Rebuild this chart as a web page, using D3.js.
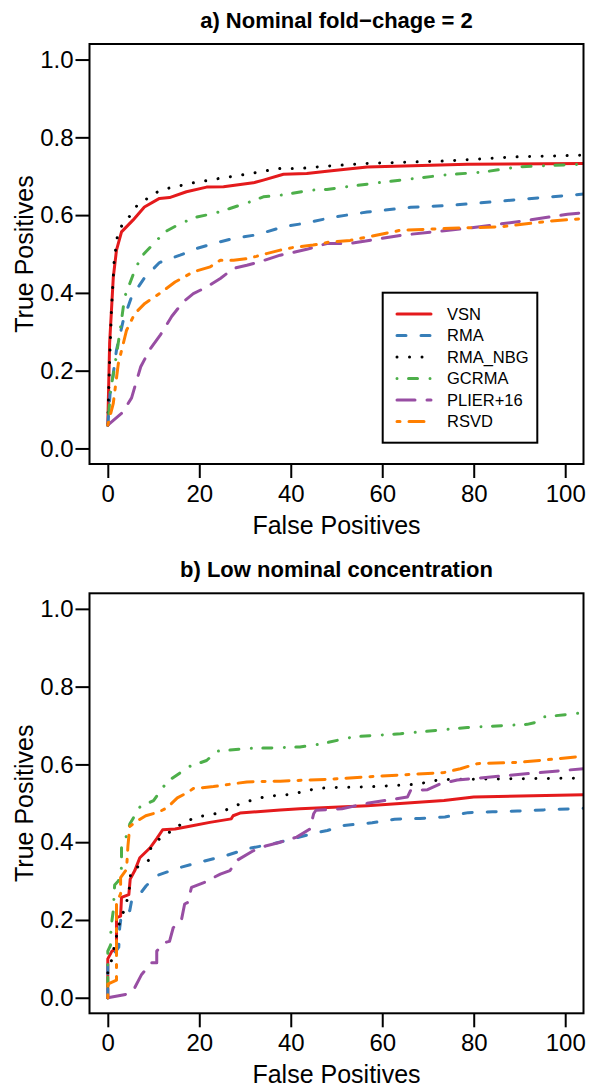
<!DOCTYPE html>
<html>
<head>
<meta charset="utf-8">
<script src="https://cdn.jsdelivr.net/npm/d3@7/dist/d3.min.js"></script>
<style>
  body { margin: 0; background: #fff; }
  text { font-family: "Liberation Sans", Arial, Helvetica, sans-serif; fill: #000; }
</style>
</head>
<body>
<svg id="chart"></svg>
<script>
// tick values
const fpTicks = [0, 20, 40, 60, 80, 100];
const tpTicks = [0, 0.2, 0.4, 0.6, 0.8, 1.0];

// methods (legend order) and their styles
const methods = ["VSN", "RMA", "RMA_NBG", "GCRMA", "PLIER+16", "RSVD"];
const colors = ["#E41A1C", "#377EB8", "#000000", "#4DAF4A", "#984EA3", "#FF7F00"];
const dashes = [null, "9,15", "0.01,12.5", "0.01,11.5,9,12.5", "18,12", "3,9,15,9"];

// panel titles
const titles = ["a) Nominal fold\u2212chage = 2", "b) Low nominal concentration"];

// panel a: [false positives, true positives]
const vsnA = [[0,0.06],[0.4,0.27],[1.2,0.44],[1.9,0.51],[3.0,0.557],[5.5,0.587],[8.0,0.621],[11.3,0.643],[13.5,0.645],[17.2,0.66],[21.6,0.672],[25.3,0.673],[31.8,0.683],[34,0.69],[38.4,0.705],[43.5,0.707],[47.9,0.713],[51.5,0.717],[56.7,0.724],[78.6,0.731],[104,0.733]];
const rmaA = [[0,0.06],[0.5,0.141],[0.8,0.158],[1.9,0.253],[3.4,0.33],[5.2,0.39],[8.1,0.44],[11.3,0.478],[15.8,0.497],[19.4,0.514],[23.1,0.527],[27.5,0.54],[31.8,0.548],[34.7,0.557],[38.4,0.57],[43.5,0.58],[49.4,0.595],[56.7,0.608],[66.2,0.62],[75,0.625],[85.9,0.636],[96.9,0.647],[104,0.654]];
const rmaNbgA = [[0,0.06],[0.2,0.15],[0.4,0.227],[0.8,0.356],[1.4,0.484],[2.1,0.546],[3.2,0.577],[5.0,0.6],[6.4,0.625],[8.7,0.643],[10.9,0.66],[13.5,0.67],[18.7,0.683],[24.2,0.694],[29.6,0.704],[37.7,0.72],[42,0.72],[47.9,0.726],[56.7,0.733],[73.5,0.739],[89.6,0.75],[104,0.754]];
const gcrmaA = [[0,0.06],[0.6,0.15],[1.5,0.21],[2.6,0.296],[3.7,0.39],[5.9,0.458],[7.3,0.493],[10.3,0.53],[12.5,0.557],[15.8,0.578],[19.4,0.595],[23.1,0.604],[26.7,0.617],[31.1,0.634],[34,0.647],[37.7,0.651],[44.3,0.664],[47.9,0.666],[51.5,0.672],[60.3,0.685],[73.5,0.703],[82.2,0.711],[89.6,0.724],[104,0.731]];
const plierA = [[0,0.06],[3.2,0.092],[5.2,0.13],[7.2,0.21],[9.2,0.255],[11.5,0.292],[14,0.34],[16.5,0.377],[18.7,0.398],[21.6,0.415],[24.6,0.437],[27.5,0.463],[30.4,0.471],[33.2,0.48],[37.7,0.497],[43.5,0.512],[47.9,0.527],[53,0.527],[64,0.548],[78.6,0.566],[89.6,0.583],[100.5,0.602],[104,0.606]];
const rsvdA = [[0,0.06],[1.2,0.116],[2.3,0.218],[4.1,0.304],[5.9,0.347],[8.1,0.373],[11.3,0.398],[14.7,0.428],[18.7,0.454],[22.4,0.467],[24.6,0.484],[27.5,0.484],[30.4,0.488],[32.5,0.494],[34.7,0.501],[37.7,0.51],[40.6,0.517],[44.9,0.523],[48.6,0.531],[53,0.535],[64,0.561],[75,0.566],[85.9,0.57],[96.9,0.585],[104,0.591]];

// panel b: [false positives, true positives]
const vsnB = [[0,0],[0,0.1],[0.9,0.12],[1.9,0.125],[1.9,0.206],[2.8,0.21],[3.0,0.258],[4.6,0.265],[4.9,0.305],[5.9,0.327],[7.0,0.36],[9.2,0.385],[10.7,0.409],[12.0,0.432],[14.7,0.434],[17.9,0.441],[22.3,0.451],[27.0,0.46],[27.4,0.468],[28.9,0.475],[37.7,0.483],[42,0.486],[56.7,0.494],[73.5,0.507],[80,0.516],[104,0.522]];
const rmaB = [[0,0],[0,0.09],[2.4,0.13],[2.6,0.18],[3.0,0.215],[4.8,0.224],[5.2,0.249],[7.3,0.271],[8.4,0.288],[10.7,0.314],[15.8,0.335],[21.6,0.353],[26,0.366],[30.4,0.383],[36.2,0.396],[40.6,0.409],[45,0.423],[48,0.43],[51.6,0.443],[57.8,0.45],[62.7,0.459],[68.2,0.461],[73.7,0.465],[78.8,0.476],[84.1,0.478],[89.6,0.48],[95.2,0.483],[104,0.487]];
const rmaNbgB = [[0,0],[0,0.065],[0.7,0.09],[1.2,0.12],[2.8,0.206],[3.9,0.232],[4.8,0.288],[5.0,0.324],[7,0.34],[9.0,0.354],[9.4,0.385],[10.9,0.405],[13,0.421],[14.9,0.439],[17,0.451],[19,0.464],[24.3,0.475],[29.4,0.501],[34.7,0.518],[40.1,0.523],[45.6,0.538],[48.2,0.54],[56.7,0.542],[67.6,0.549],[70.1,0.555],[72.7,0.561],[104,0.565]];
const gcrmaB = [[0,0],[0,0.12],[0.6,0.135],[0.7,0.18],[1.2,0.224],[1.5,0.29],[2.3,0.3],[3.0,0.335],[3.0,0.396],[4.4,0.421],[4.8,0.447],[7.0,0.49],[10,0.507],[12.1,0.542],[13.9,0.563],[17.9,0.595],[21.6,0.61],[23.8,0.634],[30.4,0.641],[37.7,0.643],[42,0.645],[46.4,0.652],[53.7,0.671],[64,0.679],[78.6,0.695],[91.7,0.703],[94.2,0.71],[95.3,0.722],[104,0.733]];
const plierB = [[0,0],[4.1,0.009],[5.9,0.026],[7.4,0.06],[9.6,0.09],[10.7,0.09],[10.7,0.12],[12.5,0.142],[13.5,0.145],[14.3,0.18],[16.1,0.2],[16.8,0.241],[17.5,0.245],[18.3,0.284],[21.2,0.297],[24.6,0.318],[26.7,0.327],[28.2,0.353],[31.8,0.378],[34.7,0.391],[37.7,0.4],[41.3,0.413],[44.2,0.434],[45,0.473],[45.5,0.482],[51.2,0.486],[56.7,0.5],[65.5,0.516],[66.2,0.533],[69.9,0.535],[72.7,0.55],[76.4,0.56],[85.9,0.57],[104,0.589]];
const rsvdB = [[0,0],[0,0.035],[1.9,0.045],[1.9,0.245],[2.8,0.267],[2.8,0.309],[4.1,0.33],[4.4,0.39],[4.8,0.44],[5.9,0.451],[8.3,0.468],[11,0.477],[12.9,0.488],[15.2,0.514],[17.6,0.529],[18.7,0.538],[23.1,0.543],[30.4,0.555],[37.7,0.557],[48.6,0.562],[56.7,0.568],[73.5,0.579],[77.1,0.589],[80.8,0.602],[89.6,0.605],[104,0.621]];

const panels = [
    { title: titles[0], top: 44, series: [vsnA, rmaA, rmaNbgA, gcrmaA, plierA, rsvdA], legend: true },
    { title: titles[1], top: 593.3, series: [vsnB, rmaB, rmaNbgB, gcrmaB, plierB, rsvdB], legend: false }
];

// init setting
const svg = d3.select("#chart")
    .attr("width", 591)
    .attr("height", 1089);
const left = 89.5, right = 583.5, plotH = 420;

const x = d3.scaleLinear().domain([-4, 104]).range([left, right]);

panels.forEach((p, k) => {
    const bottom = p.top + plotH;
    const y = d3.scaleLinear().domain([-0.04, 1.04]).range([bottom, p.top]);
    const g = svg.append("g");

    // clip so the lines stop at the box
    g.append("clipPath").attr("id", "clip" + k)
        .append("rect")
        .attr("x", left).attr("y", p.top)
        .attr("width", right - left).attr("height", plotH);

    // lines
    const line = d3.line().x(d => x(d[0])).y(d => y(d[1]));
    g.append("g")
        .attr("clip-path", `url(#clip${k})`)
        .selectAll("path")
        .data(p.series)
        .enter().append("path")
        .attr("d", line)
        .attr("fill", "none")
        .attr("stroke", (d, i) => colors[i])
        .attr("stroke-width", 3)
        .attr("stroke-linecap", "round")
        .attr("stroke-linejoin", "round")
        .attr("stroke-dasharray", (d, i) => dashes[i]);

    // box
    g.append("rect")
        .attr("x", left).attr("y", p.top)
        .attr("width", right - left).attr("height", plotH)
        .attr("fill", "none")
        .attr("stroke", "#000")
        .attr("stroke-width", 2);

    // axes
    const xAxis = g.append("g")
        .attr("transform", `translate(0,${bottom})`)
        .call(d3.axisBottom(x).tickValues(fpTicks).tickSize(14).tickPadding(7));
    const yAxis = g.append("g")
        .attr("transform", `translate(${left},0)`)
        .call(d3.axisLeft(y).tickValues(tpTicks).tickSize(14).tickPadding(2).tickFormat(d3.format(".1f")));
    [xAxis, yAxis].forEach(a => {
        a.select(".domain").remove();
        a.selectAll(".tick line").attr("stroke", "#000").attr("stroke-width", 2);
        a.selectAll(".tick text")
            .attr("fill", "#000")
            .style("font-size", "24px")
            .style("font-family", "'Liberation Sans', Arial, sans-serif");
    });

    // title and axis labels
    g.append("text")
        .attr("x", (left + right) / 2)
        .attr("y", p.top - 16)
        .attr("text-anchor", "middle")
        .style("font-size", "22px")
        .style("font-weight", "bold")
        .text(p.title);
    g.append("text")
        .attr("x", (left + right) / 2)
        .attr("y", bottom + 70)
        .attr("text-anchor", "middle")
        .style("font-size", "25px")
        .text("False Positives");
    g.append("text")
        .attr("transform", `translate(33,${p.top + plotH / 2}) rotate(-90)`)
        .attr("text-anchor", "middle")
        .style("font-size", "25px")
        .text("True Positives");

    // legend (panel a only)
    if (p.legend) {
        const lg = g.append("g");
        lg.append("rect")
            .attr("x", 382.7).attr("y", 292.7)
            .attr("width", 154.6).attr("height", 150)
            .attr("fill", "#fff")
            .attr("stroke", "#000")
            .attr("stroke-width", 2);
        const item = lg.selectAll(".item")
            .data(methods)
            .enter().append("g")
            .attr("class", "item")
            .attr("transform", (d, i) => `translate(0,${314 + i * 21.5})`);
        item.append("line")
            .attr("x1", 397).attr("x2", 431)
            .attr("stroke", (d, i) => colors[i])
            .attr("stroke-width", 3)
            .attr("stroke-linecap", "round")
            .attr("stroke-dasharray", (d, i) => dashes[i]);
        item.append("text")
            .attr("x", 447)
            .attr("dy", "0.35em")
            .style("font-size", "16.5px")
            .text(d => d);
    }
});
</script>
</body>
</html>
